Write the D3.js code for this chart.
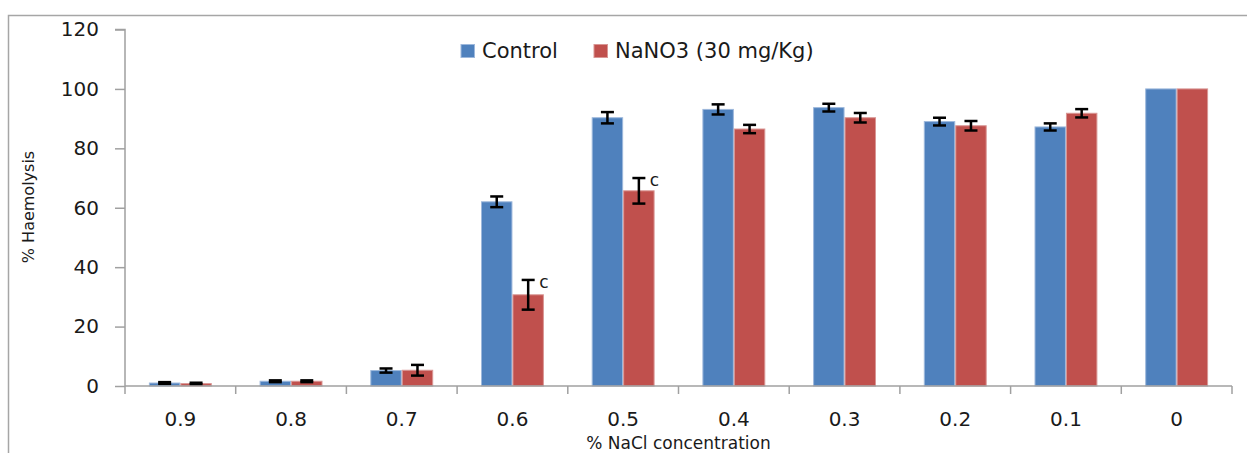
<!DOCTYPE html>
<html>

<head>
    <title>Haemolysis grouped bar chart</title>
    <script src="https://d3js.org/d3.v7.min.js"></script>
    <style>
        body { margin: 0; background: #fff; }
        text { font-family: "DejaVu Sans", sans-serif; fill: #1a1a1a; }
    </style>
</head>

<body>
    <svg id="chart"></svg>

    <script>
        // Datos
        var categories = ["0.9", "0.8", "0.7", "0.6", "0.5", "0.4", "0.3", "0.2", "0.1", "0"];
        var seriesNames = ["Control", "NaNO3 (30 mg/Kg)"];
        var controlValues = [1.0, 1.6, 5.2, 62.0, 90.3, 93.1, 93.7, 89.0, 87.2, 100];
        var controlErrors = [0.3, 0.3, 0.7, 1.8, 1.9, 1.7, 1.3, 1.3, 1.2, 0];
        var nitrateValues = [0.8, 1.6, 5.3, 30.7, 65.7, 86.5, 90.3, 87.6, 91.8, 100];
        var nitrateErrors = [0.3, 0.3, 1.8, 5.0, 4.3, 1.4, 1.6, 1.6, 1.4, 0];
        var significance = ["", "", "", "c", "c", "", "", "", "", ""];
        var yTicks = [0, 20, 40, 60, 80, 100, 120];

        var colors = ["#4F81BD", "#C0504D"];
        var edgeColors = ["#9DB8DC", "#D99694"];

        var totalWidth = 1247, totalHeight = 453;
        var margin = { top: 29.5, right: 15, bottom: 67, left: 125 },
            width = totalWidth - margin.left - margin.right,
            height = totalHeight - margin.top - margin.bottom;

        // tabla por categoria
        var data = categories.map(function(c, i) {
            return {
                cat: c,
                mark: significance[i],
                values: [
                    { key: seriesNames[0], value: controlValues[i], err: controlErrors[i], idx: 0 },
                    { key: seriesNames[1], value: nitrateValues[i], err: nitrateErrors[i], idx: 1 }
                ]
            };
        });

        var svg0 = d3.select("#chart")
            .attr("width", totalWidth)
            .attr("height", totalHeight);

        // borde del area del grafico
        svg0.append("rect")
            .attr("x", 8.5).attr("y", 15.5)
            .attr("width", 1400).attr("height", 600)
            .attr("fill", "none")
            .attr("stroke", "#A6A6A6")
            .attr("stroke-width", 1.5);

        var svg = svg0.append("g")
            .attr("transform", "translate(" + margin.left + "," + margin.top + ")");

        var x0 = d3.scaleBand().domain(categories).range([0, width]).padding(0);
        var x1 = d3.scaleBand().domain(seriesNames).range([0, x0.bandwidth()])
            .paddingInner(0).paddingOuter(0.76);
        var y = d3.scaleLinear().domain([0, 120]).range([height, 0]);

        // eje Y
        var yAxis = svg.append("g")
            .call(d3.axisLeft(y).tickValues(yTicks).tickSize(10).tickPadding(16));
        yAxis.selectAll("path, line").attr("stroke", "#A0A0A0").attr("stroke-width", 1.5);
        yAxis.selectAll("text").style("font-size", "20px").attr("fill", "#1a1a1a");
        yAxis.select(".domain").attr("d", "M-10,0H0V" + height);

        // barras
        var groups = svg.selectAll(".grp")
            .data(data)
            .enter().append("g")
            .attr("class", "grp")
            .attr("transform", d => "translate(" + x0(d.cat) + ",0)");

        groups.selectAll("rect")
            .data(d => d.values)
            .enter().append("rect")
            .attr("x", d => x1(d.key) + 0.5)
            .attr("y", d => y(d.value))
            .attr("width", x1.bandwidth() - 1)
            .attr("height", d => height - y(d.value))
            .attr("fill", d => colors[d.idx])
            .attr("stroke", d => edgeColors[d.idx])
            .attr("stroke-width", 1);

        // barras de error
        var capW = 6.5;
        var errs = groups.selectAll(".err")
            .data(d => d.values.filter(v => v.err > 0))
            .enter().append("g")
            .attr("class", "err")
            .attr("stroke", "#000")
            .attr("stroke-width", 2.5);
        errs.append("line")
            .attr("x1", d => x1(d.key) + x1.bandwidth() / 2)
            .attr("x2", d => x1(d.key) + x1.bandwidth() / 2)
            .attr("y1", d => y(d.value + d.err))
            .attr("y2", d => y(d.value - d.err));
        errs.append("line")
            .attr("x1", d => x1(d.key) + x1.bandwidth() / 2 - capW)
            .attr("x2", d => x1(d.key) + x1.bandwidth() / 2 + capW)
            .attr("y1", d => y(d.value + d.err))
            .attr("y2", d => y(d.value + d.err));
        errs.append("line")
            .attr("x1", d => x1(d.key) + x1.bandwidth() / 2 - capW)
            .attr("x2", d => x1(d.key) + x1.bandwidth() / 2 + capW)
            .attr("y1", d => y(d.value - d.err))
            .attr("y2", d => y(d.value - d.err));

        // letras de significancia
        groups.filter(d => d.mark !== "")
            .append("text")
            .attr("x", d => x1(seriesNames[1]) + x1.bandwidth() / 2 + 11)
            .attr("y", d => y(d.values[1].value + d.values[1].err) + 8)
            .style("font-size", "17px")
            .text(d => d.mark);

        // eje X
        svg.append("line")
            .attr("x1", 0).attr("x2", width)
            .attr("y1", height).attr("y2", height)
            .attr("stroke", "#A0A0A0").attr("stroke-width", 1.5);

        var bounds = categories.map(c => x0(c)).concat([width]);
        svg.selectAll(".xtick")
            .data(bounds)
            .enter().append("line")
            .attr("class", "xtick")
            .attr("x1", d => d).attr("x2", d => d)
            .attr("y1", height).attr("y2", height + 8)
            .attr("stroke", "#A0A0A0").attr("stroke-width", 1.5);

        var xAxis = svg.append("g")
            .attr("transform", "translate(0," + height + ")")
            .call(d3.axisBottom(x0).tickSize(0).tickPadding(26));
        xAxis.select(".domain").remove();
        xAxis.selectAll("text").style("font-size", "20px").attr("fill", "#1a1a1a");

        // titulos de ejes
        svg.append("text")
            .attr("x", width / 2)
            .attr("y", height + 62.5)
            .attr("text-anchor", "middle")
            .style("font-size", "17px")
            .text("% NaCl concentration");

        svg.append("text")
            .attr("transform", "translate(" + (28 + 6 - margin.left) + "," + (207 - margin.top) + ") rotate(-90)")
            .attr("text-anchor", "middle")
            .style("font-size", "16px")
            .text("% Haemolysis");

        // leyenda
        var legend = svg0.append("g");
        var legX = [461, 594];
        seriesNames.forEach(function(name, i) {
            legend.append("rect")
                .attr("x", legX[i]).attr("y", 44.5)
                .attr("width", 13.5).attr("height", 13)
                .attr("fill", colors[i])
                .attr("stroke", edgeColors[i]);
            legend.append("text")
                .attr("x", legX[i] + 21)
                .attr("y", 57.5)
                .style("font-size", "21px")
                .text(name);
        });
    </script>
</body>

</html>
